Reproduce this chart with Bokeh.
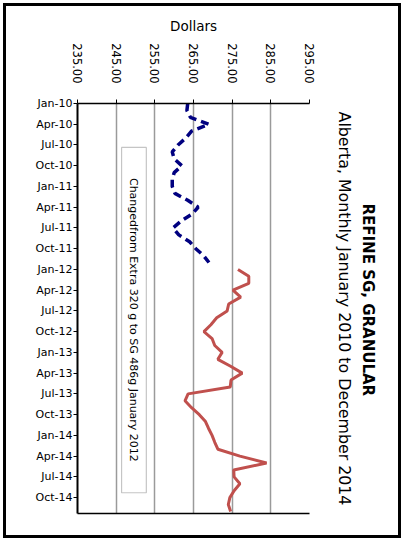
import math
from bokeh.plotting import figure
from bokeh.models import (Range1d, LinearAxis, FixedTicker, Title, BoxAnnotation, Label,
                          NumeralTickFormatter)
from bokeh.embed import file_html
from bokeh.resources import INLINE

# ---- data ----
month_names = ["Jan", "Feb", "Mar", "Apr", "May", "Jun",
               "Jul", "Aug", "Sep", "Oct", "Nov", "Dec"]
years = ["10", "11", "12", "13", "14"]
months = [f"{m}-{y}" for y in years for m in month_names]   # Jan-10 .. Dec-14

# Extra 320 g (Jan-2010 .. Dec-2011)
extra_320g = [263.5, 263.3, 264.2, 269.0, 264.5, 263.0, 261.0, 259.5, 260.0, 262.0, 260.0, 259.5,
              259.5, 260.2, 263.5, 266.2, 264.6, 261.8, 259.7, 261.2, 264.0, 265.6, 267.6, 269.0]
# SG 486 g (Jan-2012 .. Dec-2014)
sg_486g = [276.5, 279.3, 279.3, 275.2, 277.2, 274.1, 273.7, 271.0, 269.5, 267.7, 269.8, 270.5,
           272.4, 271.3, 274.6, 277.6, 274.7, 274.5, 263.6, 262.8, 264.5, 266.5, 268.1, 268.9,
           269.8, 270.5, 271.3, 277.0, 283.9, 275.4, 275.5, 277.0, 275.5, 274.4, 274.0, 274.6]

x_ticks = [235, 245, 255, 265, 275, 285, 295]
y_tick_pos = list(range(0, 60, 3))
y_tick_labels = [months[i] for i in y_tick_pos]

FONT = "DejaVu Sans"

p = figure(width=404, height=541, output_backend="svg", toolbar_location=None,
           x_range=Range1d(235, 295), y_range=Range1d(59.3, 0),
           x_axis_location="above", min_border_left=77, min_border_right=95,
           min_border_top=103, min_border_bottom=28)
p.outline_line_color = None
p.background_fill_color = "white"
p.border_fill_color = None
p.styles = {"outline": "3px solid black", "outline-offset": "-6px"}

# top (dollar) axis
xa = p.xaxis[0]
xa.ticker = FixedTicker(ticks=x_ticks)
xa.formatter = NumeralTickFormatter(format="0.00")
xa.major_label_orientation = -math.pi / 2
xa.major_label_text_font = FONT
xa.major_label_text_font_size = "11.5px"
xa.major_label_text_color = "black"
xa.major_tick_out = 4
xa.major_tick_in = 0
xa.minor_tick_line_color = None
xa.major_label_standoff = 16
xa.axis_line_color = "black"
xa.axis_line_width = 1.5
xa.major_tick_line_color = "black"
xa.axis_label = "Dollars"
xa.axis_label_text_font = FONT
xa.axis_label_text_font_size = "13.5px"
xa.axis_label_text_font_style = "normal"
xa.axis_label_text_color = "black"
xa.axis_label_standoff = 6

# left (month) axis
ya = p.yaxis[0]
ya.ticker = FixedTicker(ticks=y_tick_pos)
ya.major_label_overrides = {i: lab for i, lab in zip(y_tick_pos, y_tick_labels)}
ya.major_label_text_font = FONT
ya.major_label_text_font_size = "11px"
ya.major_label_text_color = "black"
ya.major_tick_out = 4
ya.major_tick_in = 0
ya.minor_tick_line_color = None
ya.major_label_standoff = 1
ya.axis_line_color = "black"
ya.axis_line_width = 2
ya.major_tick_line_color = "black"

# bottom line only
ba = LinearAxis(ticker=FixedTicker(ticks=[]), major_label_text_font_size="0px",
                major_tick_out=0, major_tick_in=0, minor_tick_out=0, minor_tick_in=0,
                axis_line_color="black", axis_line_width=1.5)
p.add_layout(ba, "below")

p.xgrid.ticker = FixedTicker(ticks=x_ticks[1:])
p.xgrid.grid_line_color = "#9a9a9a"
p.xgrid.grid_line_width = 1.5
p.ygrid.grid_line_color = None

# annotation box
box = BoxAnnotation(left=246.4, right=252.8, top=6.35, bottom=56.3,
                    fill_color="white", fill_alpha=1.0, line_color="#404040", line_width=1.2)
p.add_layout(box)
p.add_layout(Label(x=249.6, y=31.3, text="Changedfrom Extra 320 g to SG 486g January 2012",
                   angle=-math.pi / 2, text_align="center", text_baseline="middle",
                   text_font=FONT, text_font_size="11px", text_color="black"))

# series
p.line(extra_320g, list(range(0, 24)), line_color="#000080", line_width=3.5, line_dash="8 5")
p.line(sg_486g, list(range(24, 60)), line_color="#C0504D", line_width=3)

# titles on the right (first added is nearest the frame)
p.add_layout(Title(text="Alberta, Monthly January 2010 to December 2014", align="center",
                   text_font=FONT, text_font_size="15.8px", text_font_style="normal",
                   text_color="black", standoff=50), "right")
p.add_layout(Title(text="REFINE SG, GRANULAR", align="left", offset=100,
                   text_font=FONT, text_font_size="15px", text_font_style="bold",
                   text_color="black", standoff=-44), "right")

open("out.html", "w").write(file_html(p, INLINE))
